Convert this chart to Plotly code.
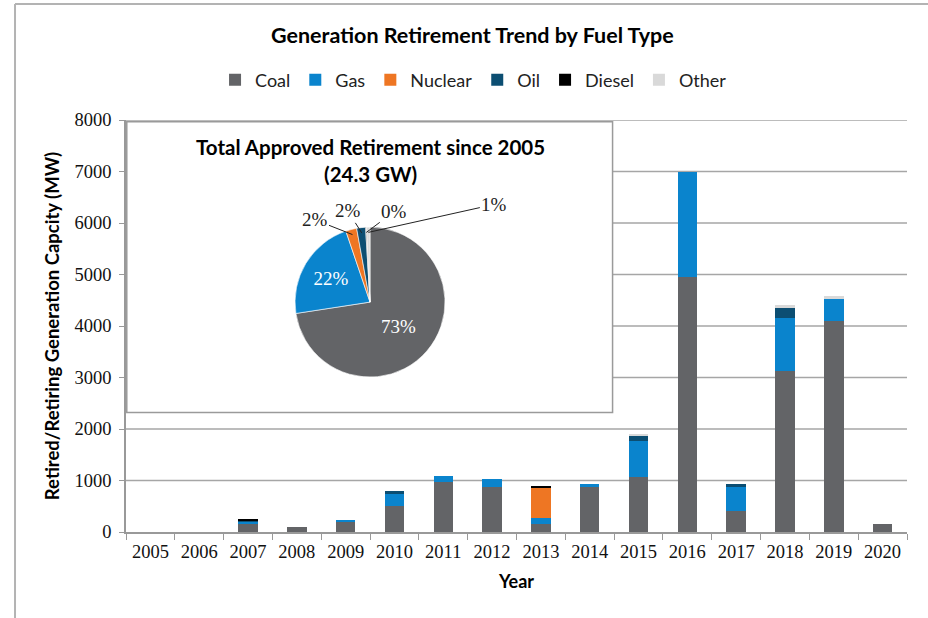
import math
import plotly.graph_objects as go

# Values (MW)
years = ["2005", "2006", "2007", "2008", "2009", "2010", "2011", "2012",
         "2013", "2014", "2015", "2016", "2017", "2018", "2019", "2020"]
coal = [0, 0, 165, 100, 185, 510, 965, 875, 165, 880, 1070, 4950, 405, 3120, 4100, 165]
gas = [0, 0, 30, 0, 55, 220, 125, 150, 115, 55, 690, 2050, 460, 1030, 420, 0]
nuclear = [0, 0, 0, 0, 0, 0, 0, 0, 575, 0, 0, 0, 0, 0, 0, 0]
oil = [0, 0, 35, 0, 0, 60, 0, 0, 0, 0, 105, 0, 75, 190, 0, 0]
diesel = [0, 0, 20, 0, 0, 0, 0, 0, 25, 0, 0, 0, 0, 0, 0, 0]
other = [0, 0, 0, 0, 0, 0, 0, 0, 0, 0, 45, 0, 0, 70, 70, 0]

fuel_names = ["Coal", "Gas", "Nuclear", "Oil", "Diesel", "Other"]
fuel_values = [coal, gas, nuclear, oil, diesel, other]
fuel_colors = ["#636467", "#0A84CD", "#EE7623", "#0C4E72", "#000000", "#D9D9D9"]

y_ticks = [0, 1000, 2000, 3000, 4000, 5000, 6000, 7000, 8000]

SANS = "Lato"
SERIF = "Liberation Serif"

fig = go.Figure()

# stacked bars
for name, vals, color in zip(fuel_names, fuel_values, fuel_colors):
    fig.add_trace(go.Bar(x=years, y=vals, name=name, marker=dict(color=color, line=dict(width=0))))

# pie inset: totals per fuel
totals = [sum(v) for v in fuel_values]
grand = sum(totals)
pct = [round(100 * t / grand) for t in totals]
inside_text = [f"{p}%" if p >= 10 else "" for p in pct]

pie_dom_x = [0.2164, 0.4085]
pie_dom_y = [0.376, 0.740]
fig.add_trace(go.Pie(
    labels=fuel_names, values=totals, sort=False, direction="clockwise", rotation=0,
    marker=dict(colors=fuel_colors, line=dict(color="white", width=0.6)),
    text=inside_text, textinfo="text", textposition="inside",
    insidetextorientation="horizontal",
    textfont=dict(family=SERIF, size=19, color="white"),
    domain=dict(x=pie_dom_x, y=pie_dom_y), showlegend=False, hoverinfo="label+percent",
))

# leader-line labels for the small slices
cx = (pie_dom_x[0] + pie_dom_x[1]) / 2
cy = (pie_dom_y[0] + pie_dom_y[1]) / 2
plot_w, plot_h = 781, 412
r_px = 75 * 0.93
offsets = {"Nuclear": (-38, -15), "Oil": (-14, -22), "Diesel": (28, -21), "Other": (126, -28)}
cum = 0
for name, t, p in zip(fuel_names, totals, pct):
    mid = (cum + t / 2) / grand * 2 * math.pi
    cum += t
    if name not in offsets:
        continue
    ax, ay = offsets[name]
    fig.add_annotation(
        x=cx + r_px * math.sin(mid) / plot_w, y=cy + r_px * math.cos(mid) / plot_h,
        xref="paper", yref="paper", text=f"{p}%", showarrow=True,
        arrowhead=0, arrowwidth=1, arrowcolor="#222", ax=ax, ay=ay, standoff=0,
        font=dict(family=SERIF, size=19, color="#222"),
    )

fig.add_annotation(
    x=cx, y=0.902, xref="paper", yref="paper", showarrow=False,
    xanchor="center", yanchor="middle",
    text=f"<b>Total Approved Retirement since 2005<br>({grand / 1000:.1f} GW)</b>",
    font=dict(family=SANS, size=20.5, color="black"), align="center",
)

# inset box and gridlines (gridlines stop at the box)
box = dict(x0=0.001, x1=0.623, y0=0.29, y1=0.996)
for v in y_ticks[1:]:
    frac = v / y_ticks[-1]
    start = box["x1"] if box["y0"] < frac < box["y1"] else 0
    fig.add_shape(type="line", xref="paper", yref="y", x0=start, x1=1, y0=v, y1=v,
                  line=dict(color="#a6a6a6", width=1.3), layer="below")
fig.add_shape(type="rect", xref="paper", yref="paper", **box,
              fillcolor="white", line=dict(color="#9a9a9a", width=1.5), layer="below")

# outer frame of the chart (only top and left edges are in view)
frame = dict(color="#b3b3b3", width=2)
fig.add_shape(type="line", xref="paper", yref="paper", x0=-0.1421, x1=1.2, y0=1.2816, y1=1.2816,
              line=frame, layer="below")
fig.add_shape(type="line", xref="paper", yref="paper", x0=-0.1421, x1=-0.1421, y0=-0.6, y1=1.2816,
              line=frame, layer="below")

fig.update_layout(
    width=928, height=618,
    margin=dict(l=126, r=21, t=120, b=86, autoexpand=False),
    barmode="stack", bargap=0.6,
    paper_bgcolor="white", plot_bgcolor="rgba(0,0,0,0)",
    title=dict(text="<b>Generation Retirement Trend by Fuel Type</b>", x=0.509, xanchor="center",
               y=0.943, yanchor="middle", yref="container",
               font=dict(family=SANS, size=21.5, color="black")),
    legend=dict(orientation="h", x=0.445, xanchor="center", y=1.097, yanchor="middle",
                font=dict(family=SANS, size=18, color="#222"), itemwidth=30, traceorder="normal"),
    font=dict(family=SERIF),
)

fig.update_xaxes(
    type="category", tickson="boundaries", ticks="outside", ticklen=6, tickcolor="#999",
    showline=True, linecolor="#999", linewidth=1.5, showgrid=False, automargin=False,
    tickfont=dict(family=SERIF, size=18.5, color="#111"), ticklabelstandoff=2,
    title=dict(text="<b>Year</b>", font=dict(family=SANS, size=18, color="black"), standoff=14),
)
fig.update_yaxes(
    range=[0, 8000], tickvals=y_ticks, ticks="outside", ticklen=5, tickcolor="#999",
    showline=True, linecolor="#999", linewidth=1.5, automargin=False,
    showgrid=False, zeroline=False,
    tickfont=dict(family=SERIF, size=18.5, color="#111"), ticklabelstandoff=4,
    title=dict(text="<b>Retired/Retiring Generation Capcity (MW)</b>",
               font=dict(family=SANS, size=18.5, color="black"), standoff=10),
)

# drop the default page margin so the figure fills the window exactly
fig.write_html("out.html", config={"displayModeBar": False},
               post_script="document.body.style.margin='0';document.body.style.overflow='hidden';")
